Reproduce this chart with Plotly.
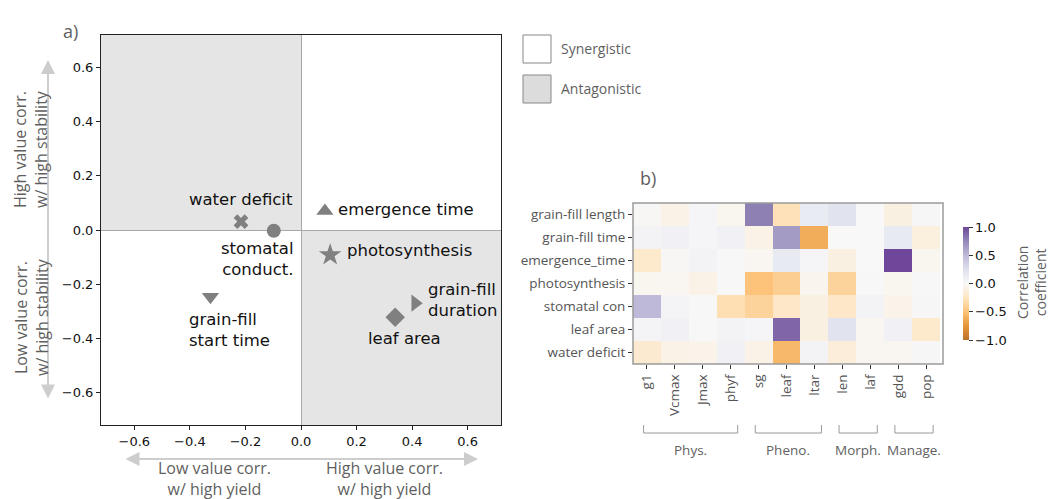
import plotly.graph_objects as go

# ---------------- panel a: trait positions ----------------
traits = ["water deficit", "stomatal<br>conduct.", "emergence time", "photosynthesis",
          "grain-fill<br>start time", "grain-fill<br>duration", "leaf area"]
yield_corr = [-0.216, -0.098, 0.086, 0.105, -0.326, 0.411, 0.339]
stability_corr = [0.031, -0.003, 0.070, -0.092, -0.246, -0.270, -0.322]
symbols = ["x", "circle", "triangle-up", "star", "triangle-down", "triangle-right", "diamond"]
sizes = [13, 14, 15, 17, 15, 15, 15]
# label placement relative to each marker (pixels)
label_anchor = ["right", "right", "left", "left", "left", "left", "center"]
label_dx = [54, 22, 11, 15, -23, 11, 9]
label_dy = [22, -28, 2, 4, -33, 3, -21]

axis_ticks = [-0.6, -0.4, -0.2, 0.0, 0.2, 0.4, 0.6]
lim = 0.72

# ---------------- panel b: correlation heatmap ----------------
rows = ["grain-fill length", "grain-fill time", "emergence_time", "photosynthesis",
        "stomatal con", "leaf area", "water deficit"]
params = ["g1", "Vcmax", "Jmax", "phyf", "sg", "leaf", "ltar", "len", "laf", "gdd", "pop"]
corr = [
    [-0.02, -0.08, 0.03, -0.04, 0.78, -0.28, 0.14, 0.22, 0.00, -0.10, 0.02],
    [0.05, 0.08, 0.03, 0.07, -0.08, 0.65, -0.62, 0.00, 0.00, 0.15, -0.12],
    [-0.20, -0.02, 0.05, 0.01, -0.03, 0.15, 0.03, -0.10, 0.00, 1.00, -0.04],
    [-0.04, -0.03, -0.08, 0.01, -0.50, -0.42, -0.05, -0.38, 0.01, -0.04, 0.01],
    [0.50, 0.04, 0.01, -0.30, -0.38, -0.22, -0.10, -0.22, 0.05, -0.07, 0.02],
    [0.04, 0.08, 0.01, 0.05, 0.03, 0.88, -0.10, 0.22, -0.03, 0.07, -0.20],
    [-0.18, -0.08, -0.07, 0.07, -0.08, -0.56, 0.05, -0.14, -0.03, -0.03, 0.02],
]
groups = ["Phys.", "Pheno.", "Morph.", "Manage."]
group_span = [(0, 3), (4, 6), (7, 8), (9, 10)]

cbar_ticks = [-1.0, -0.5, 0.0, 0.5, 1.0]

W, H = 1051, 499


def px(x):
    return x / W


def py(y):
    return (H - y) / H


GREY_TXT = "#5f5f5f"
SOFT = dict(family="Open Sans, Lato, sans-serif", color=GREY_TXT)
DEJAVU = "DejaVu Sans"

fig = go.Figure()

# quadrant shading: antagonistic quadrants grey
for x0, x1, y0, y1 in [(-lim, 0, 0, lim), (0, lim, -lim, 0)]:
    fig.add_shape(type="rect", xref="x", yref="y", x0=x0, x1=x1, y0=y0, y1=y1,
                  fillcolor="#e5e5e5", line_width=0, layer="below")

for i, name in enumerate(traits):
    fig.add_trace(go.Scatter(
        x=[yield_corr[i]], y=[stability_corr[i]], mode="markers",
        marker=dict(symbol=symbols[i], size=sizes[i], color="#808080",
                    line=dict(width=0)),
        showlegend=False, hoverinfo="skip", xaxis="x", yaxis="y"))
    fig.add_annotation(
        x=yield_corr[i], y=stability_corr[i], xref="x", yref="y",
        text=name, showarrow=False, xanchor=label_anchor[i], yanchor="middle",
        align=label_anchor[i],
        xshift=label_dx[i], yshift=label_dy[i],
        font=dict(family=DEJAVU, size=16.5, color="#111111"))


def soften(hex_col, alpha=0.85):
    """Blend a colour with white, as a semi-transparent fill would look."""
    r, g, b = (int(hex_col[k:k + 2], 16) for k in (1, 3, 5))
    mix = [round(c * alpha + 255 * (1 - alpha)) for c in (r, g, b)]
    return "#{:02x}{:02x}{:02x}".format(*mix)


puor_base = ["#b35806", "#e08214", "#fdb863", "#fee0b6", "#f7f7f7",
             "#d8daeb", "#b2abd2", "#8073ac", "#542788"]
puor = [[k / (len(puor_base) - 1), soften(c)] for k, c in enumerate(puor_base)]

fig.add_trace(go.Heatmap(
    z=corr, x=params, y=rows, xaxis="x2", yaxis="y2",
    colorscale=puor, zmin=-1, zmax=1, hoverinfo="skip",
    colorbar=dict(
        x=px(963), xanchor="left", xpad=0, y=py(283.5), yanchor="middle", ypad=0,
        lenmode="pixels", len=113, thickness=6, outlinewidth=0,
        tickvals=cbar_ticks, ticktext=[f"{v:.1f}".replace("-", "\u2212") for v in cbar_ticks],
        ticks="outside", ticklen=4, tickcolor="#333333",
        tickfont=dict(family=DEJAVU, size=13, color="#111111"))))

fig.add_shape(type="rect", xref="x2 domain", yref="y2 domain", x0=0, x1=1, y0=0, y1=1,
              line=dict(color="#9a9a9a", width=1.5), fillcolor="rgba(0,0,0,0)")

# parameter group brackets
for name, (a, b) in zip(groups, group_span):
    xa, xb = a - 0.12, b + 0.25
    ytop, ybot = py(425), py(433)
    fig.add_shape(type="path", xref="x2", yref="paper",
                  path=f"M {xa},{ytop} L {xa},{ybot} L {xb},{ybot} L {xb},{ytop}",
                  line=dict(color="#999999", width=1))
    fig.add_annotation(x=(xa + xb) / 2, y=py(450), xref="x2", yref="paper",
                       text=name, showarrow=False, xanchor="center", yanchor="middle",
                       font=dict(**SOFT, size=13.5))

# panel letters
fig.add_annotation(x=px(61), y=py(17), xref="paper", yref="paper", text="a)",
                   showarrow=False, font=dict(**SOFT, size=18))
fig.add_annotation(x=px(648), y=py(178), xref="paper", yref="paper", text="b)",
                   showarrow=False, font=dict(**SOFT, size=18))

# legend boxes
for label, fill, ytop in [("Synergistic", "#ffffff", 35), ("Antagonistic", "#dcdcdc", 75)]:
    fig.add_shape(type="rect", xref="paper", yref="paper",
                  x0=px(523), x1=px(551), y0=py(ytop + 28), y1=py(ytop),
                  fillcolor=fill, line=dict(color="#888888", width=1))
    fig.add_annotation(x=px(559), y=py(ytop + 14), xref="paper", yref="paper",
                       text=label, showarrow=False, xanchor="left", yanchor="middle",
                       font=dict(**SOFT, size=14))

# direction arrows and captions
fig.add_annotation(x=px(478), y=py(459), xref="paper", yref="paper", text="",
                   showarrow=True, axref="pixel", ayref="pixel", ax=-354, ay=0,
                   arrowside="end+start", arrowhead=2, arrowsize=1.4, arrowwidth=2,
                   arrowcolor="#cdcdcd")
fig.add_annotation(x=px(48), y=py(60), xref="paper", yref="paper", text="",
                   showarrow=True, axref="pixel", ayref="pixel", ax=0, ay=340,
                   arrowside="end+start", arrowhead=2, arrowsize=1.4, arrowwidth=2,
                   arrowcolor="#cdcdcd")
for txt, cx in [("Low value corr.<br>w/ high yield", 214), ("High value corr.<br>w/ high yield", 384)]:
    fig.add_annotation(x=px(cx), y=py(478), xref="paper", yref="paper", text=txt,
                       showarrow=False, xanchor="center", yanchor="middle",
                       font=dict(**SOFT, size=16))
for txt, cy in [("High value corr.<br>w/ high stability", 149), ("Low value corr.<br>w/ high stability", 317)]:
    fig.add_annotation(x=px(31), y=py(cy), xref="paper", yref="paper", text=txt,
                       showarrow=False, textangle=-90, xanchor="center", yanchor="middle",
                       font=dict(**SOFT, size=16))

fig.add_annotation(x=px(1031), y=py(283), xref="paper", yref="paper",
                   text="Correlation<br>coefficient", showarrow=False, textangle=-90,
                   xanchor="center", yanchor="middle", font=dict(**SOFT, size=14))

axis_common = dict(showline=True, linecolor="#222222", linewidth=1, mirror=True,
                   ticks="outside", ticklen=4, tickcolor="#222222", showgrid=False,
                   zeroline=True, zerolinecolor="#a8a8a8", zerolinewidth=1,
                   tickvals=axis_ticks, tickformat=".1f",
                   tickfont=dict(family=DEJAVU, size=13, color="#111111"),
                   range=[-lim, lim])

heat_tickfont = dict(family="Open Sans, Lato, sans-serif", size=13.5, color="#555555")

fig.update_layout(
    width=W, height=H, margin=dict(l=0, r=0, t=0, b=0),
    paper_bgcolor="white", plot_bgcolor="white",
    xaxis=dict(domain=[px(101), px(501)], anchor="y", **axis_common),
    yaxis=dict(domain=[py(425), py(35)], anchor="x", **axis_common),
    xaxis2=dict(domain=[px(633), px(943)], anchor="y2", tickangle=-90,
                ticks="outside", ticklen=4, tickcolor="#333333", showgrid=False,
                zeroline=False, showline=False, tickfont=heat_tickfont),
    yaxis2=dict(domain=[py(364), py(203)], anchor="x2", autorange="reversed",
                ticks="outside", ticklen=4, tickcolor="#333333", showgrid=False,
                zeroline=False, showline=False, tickfont=heat_tickfont),
    showlegend=False,
)

fig.write_html("out.html")
